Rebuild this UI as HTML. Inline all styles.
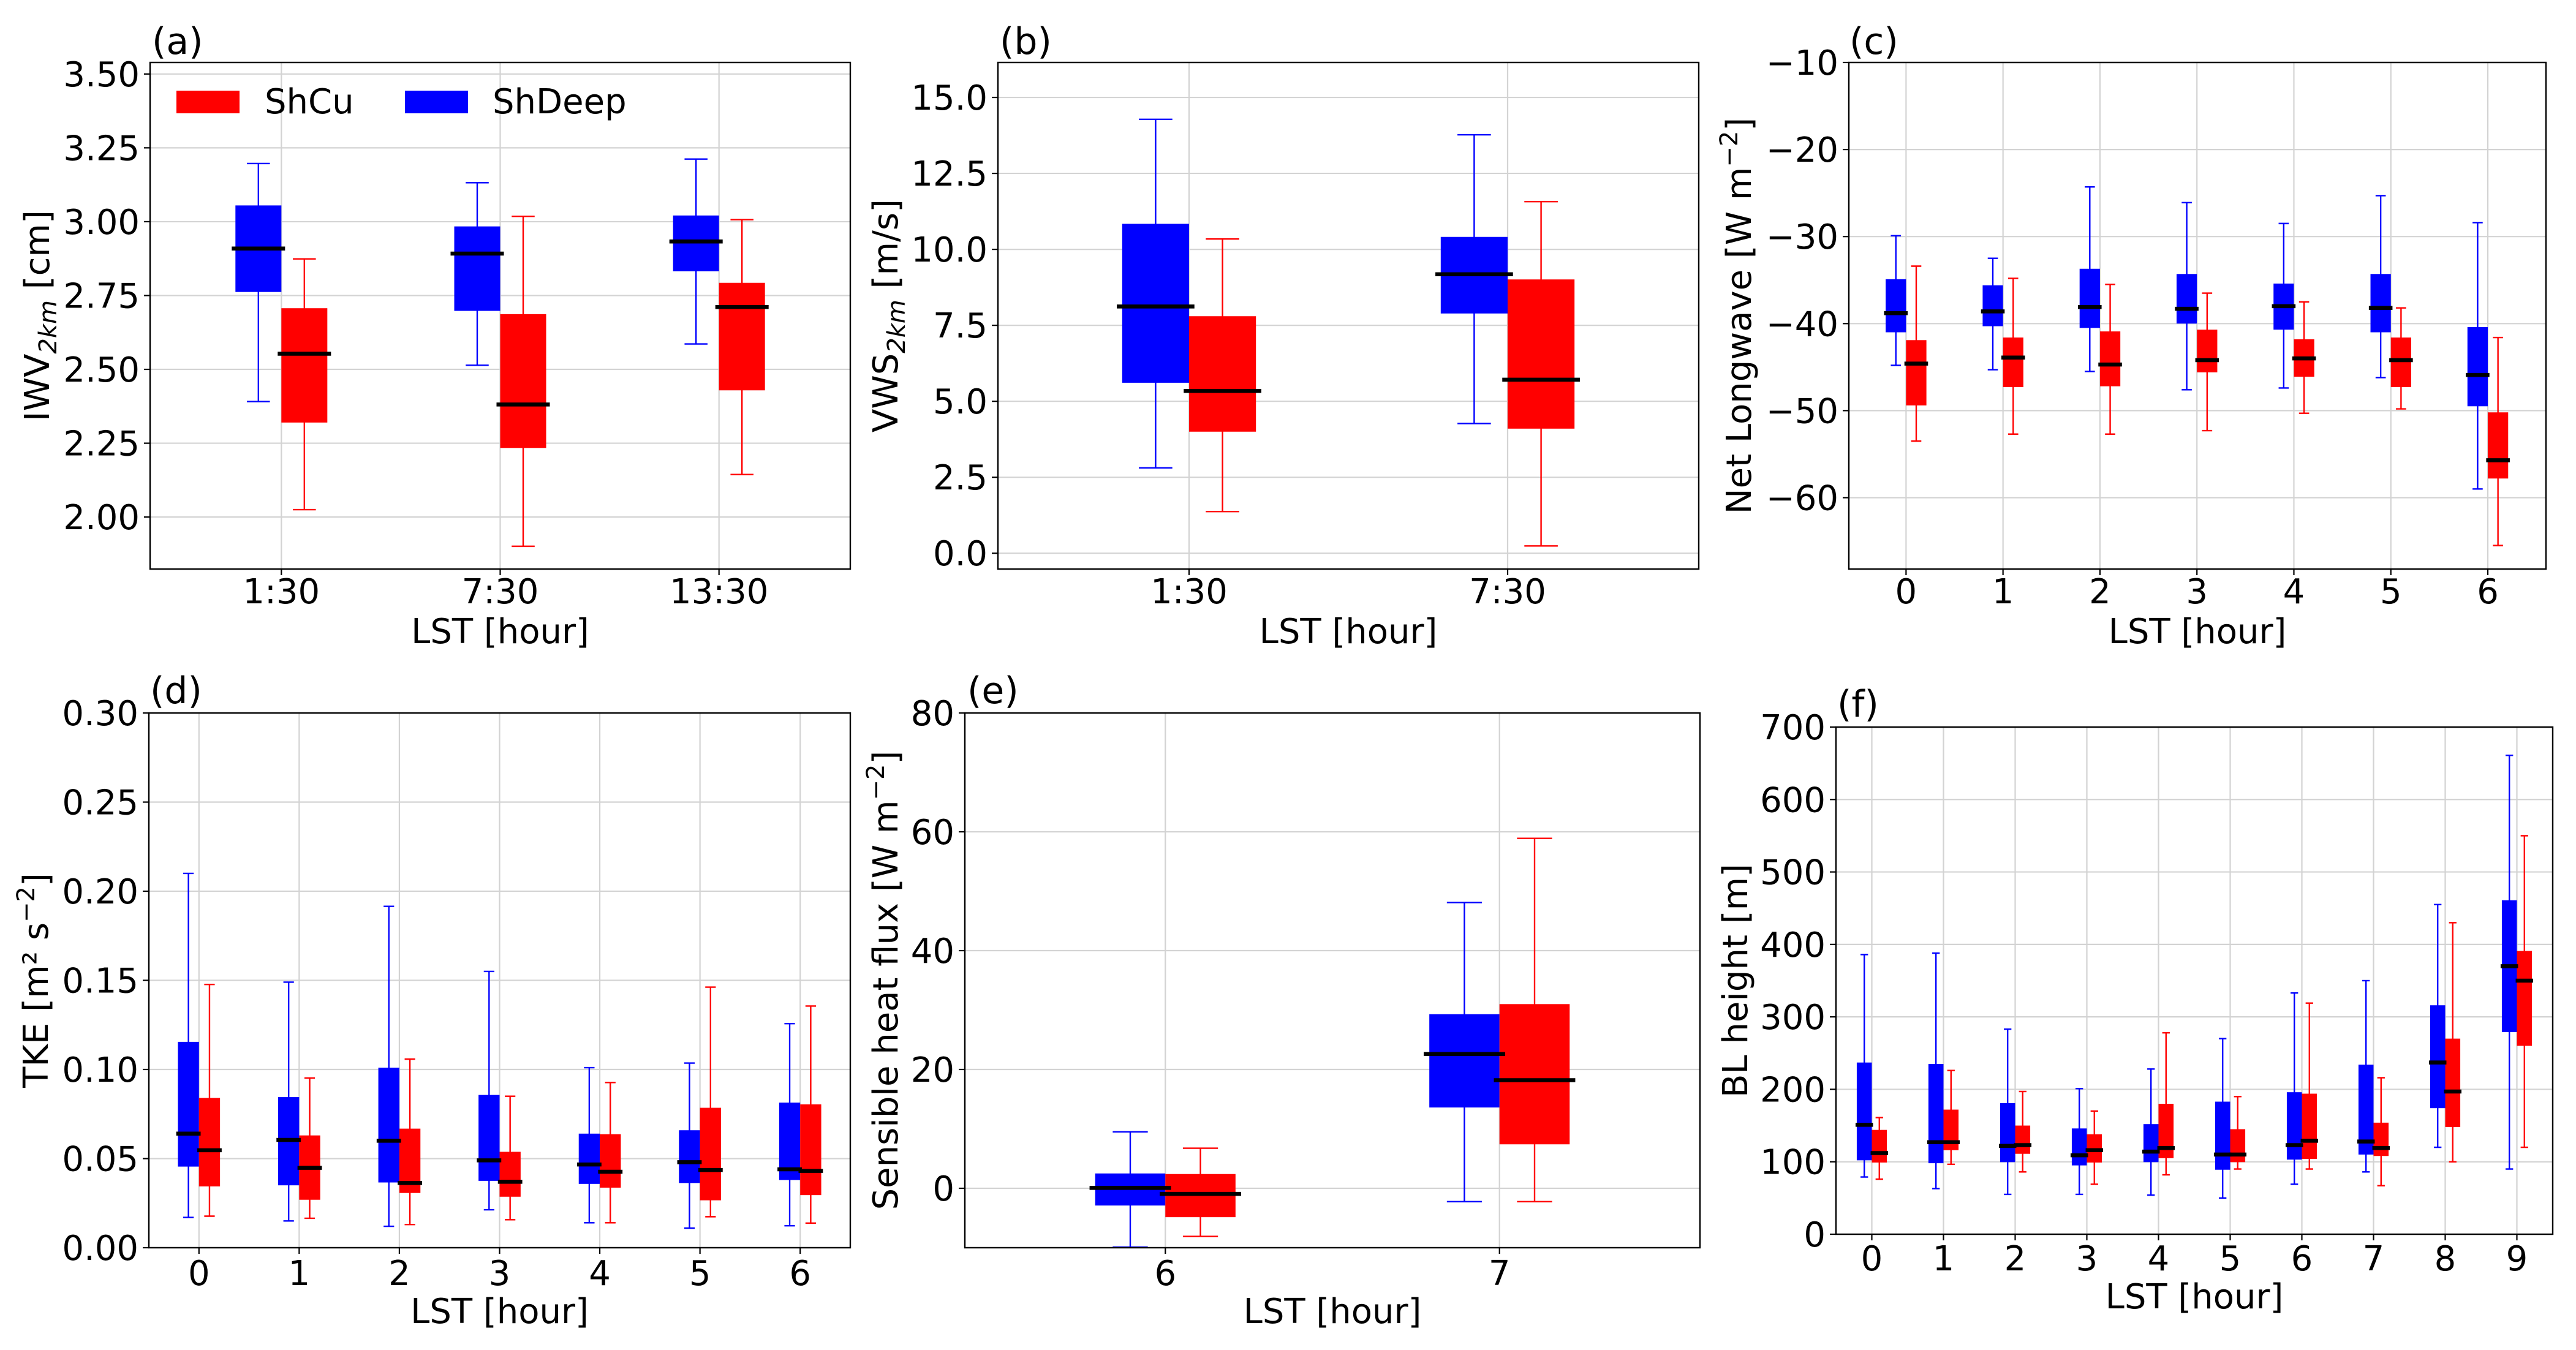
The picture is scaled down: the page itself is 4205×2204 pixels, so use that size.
<!DOCTYPE html>
<html><head><meta charset="utf-8"><title>Box plots</title>
<style>
html,body{margin:0;padding:0;background:#fff;}
svg{display:block;font-family:"DejaVu Sans","Liberation Sans",sans-serif;}
</style></head>
<body>
<svg id="fig" xmlns="http://www.w3.org/2000/svg" width="4205" height="2204" viewBox="0 0 4205 2204"></svg>
<script>
// ---------- data (order per box: whisker-low, q1, median, q3, whisker-high) ----------
const catsA = ["1:30","7:30","13:30"];
const blueA = [[2.391,2.762,2.909,3.055,3.197],[2.514,2.698,2.892,2.984,3.132],[2.586,2.832,2.933,3.021,3.212]];
const redA  = [[2.025,2.320,2.553,2.707,2.874],[1.901,2.234,2.381,2.687,3.018],[2.144,2.429,2.711,2.793,3.007]];
const ticksA = ["2.00","2.25","2.50","2.75","3.00","3.25","3.50"];

const catsB = ["1:30","7:30"];
const blueB = [[2.81,5.61,8.12,10.84,14.28],[4.27,7.89,9.18,10.41,13.77]];
const redB  = [[1.37,4.00,5.34,7.80,10.34],[0.24,4.10,5.71,9.01,11.57]];
const ticksB = ["0.0","2.5","5.0","7.5","10.0","12.5","15.0"];

const catsC = ["0","1","2","3","4","5","6"];
const blueC = [[-44.8,-41.0,-38.8,-34.9,-29.9],[-45.3,-40.3,-38.6,-35.6,-32.5],[-45.5,-40.5,-38.1,-33.7,-24.3],[-47.6,-40.0,-38.3,-34.3,-26.1],[-47.4,-40.7,-38.0,-35.4,-28.5],[-46.2,-41.0,-38.2,-34.3,-25.3],[-59.0,-49.5,-45.9,-40.4,-28.4]];
const redC  = [[-53.5,-49.4,-44.6,-41.9,-33.4],[-52.7,-47.3,-43.9,-41.6,-34.8],[-52.7,-47.2,-44.7,-40.9,-35.5],[-52.3,-45.6,-44.2,-40.7,-36.5],[-50.3,-46.1,-44.0,-41.8,-37.5],[-49.8,-47.3,-44.2,-41.6,-38.2],[-65.5,-57.8,-55.7,-50.2,-41.6]];
const ticksC = ["−60","−50","−40","−30","−20","−10"];

const catsD = ["0","1","2","3","4","5","6"];
const blueD = [[.017,.0455,.064,.1155,.210],[.015,.035,.0605,.0845,.149],[.012,.0366,.060,.101,.1915],[.0213,.0375,.049,.0857,.155],[.014,.0358,.0467,.064,.101],[.011,.0363,.048,.0659,.1036],[.0123,.038,.044,.0814,.1257]];
const redD  = [[.0177,.0344,.0547,.084,.1477],[.0165,.0269,.0448,.063,.0952],[.013,.0307,.0363,.0668,.1058],[.0157,.0286,.037,.0538,.085],[.014,.0337,.0426,.0637,.0927],[.0174,.0266,.0436,.0785,.1462],[.0138,.0295,.0431,.0804,.1356]];
const ticksD = ["0.00","0.05","0.10","0.15","0.20","0.25","0.30"];

const catsE = ["6","7"];
const blueE = [[-9.9,-2.9,0.07,2.5,9.5],[-2.25,13.6,22.6,29.3,48.1]];
const redE  = [[-8.1,-4.86,-0.94,2.4,6.75],[-2.25,7.4,18.2,31.0,58.9]];
const ticksE = ["0","20","40","60","80"];

const catsF = ["0","1","2","3","4","5","6","7","8","9"];
const blueF = [[79,102,151,237,386],[63,98,127,235,388],[55,99.5,122,181,283],[55,95,109,146,201],[54,99.5,114,152,228],[50,89,110,183,270],[69,103,123,196,333],[86,110,128,234,350],[120,174,237,316,455],[90,279,370,461,661]];
const redF  = [[76,99,112,144,161],[96.5,116,127,172,226],[86,111,123,150,197],[69,99,116,138,170],[82,105,119,180,278],[90,99.5,110,145,190],[90,104,129,194,319],[67,108,119,154,216],[100,148,197,270,430],[120,260,350,391,550]];
const ticksF = ["0","100","200","300","400","500","600","700"];

// ---------- layout ----------
const NS="http://www.w3.org/2000/svg";
const svg=document.getElementById('fig');
function mk(tag,attrs,parent){const e=document.createElementNS(NS,tag);for(const k in attrs)e.setAttribute(k,attrs[k]);(parent||svg).appendChild(e);return e;}

const panels=[
 {id:'a',L:245,R:1388,T:102,B:929,x0:-0.6,x1:2.6,y0:1.824,y1:3.539,cats:catsA,blue:blueA,red:redA,ticks:ticksA,ylx:60,lab:[248,88],tickY:985,xlabY:1050,ylab:'iwv'},
 {id:'b',L:1629,R:2773,T:102,B:929,x0:-0.6,x1:1.6,y0:-0.52,y1:16.15,cats:catsB,blue:blueB,red:redB,ticks:ticksB,ylx:1445,lab:[1632,88],tickY:985,xlabY:1050,ylab:'vws'},
 {id:'c',L:3018,R:4156,T:102,B:929,x0:-0.59,x1:6.6,y0:-68.2,y1:-10,cats:catsC,blue:blueC,red:redC,ticks:ticksC,ylx:2838,lab:[3019,88],tickY:985,xlabY:1050,ylab:'lw'},
 {id:'d',L:243,R:1388,T:1164,B:2037,x0:-0.5,x1:6.5,y0:0,y1:0.3,cats:catsD,blue:blueD,red:redD,ticks:ticksD,ylx:58,lab:[245,1148],tickY:2098,xlabY:2160,ylab:'tke'},
 {id:'e',L:1575,R:2775,T:1164,B:2037,x0:-0.6,x1:1.6,y0:-10,y1:80,cats:catsE,blue:blueE,red:redE,ticks:ticksE,ylx:1445,lab:[1579,1148],tickY:2098,xlabY:2160,ylab:'shf'},
 {id:'f',L:2997,R:4167,T:1187,B:2015,x0:-0.5,x1:9.5,y0:0,y1:700,cats:catsF,blue:blueF,red:redF,ticks:ticksF,ylx:2832,lab:[2999,1170],tickY:2074,xlabY:2136,ylab:'bl'}
];
const FS=56, BW=0.21, OFF=0.105;

panels.forEach(p=>{
  const g=mk('g',{});
  
  
  const sx=v=>p.L+(v-p.x0)/(p.x1-p.x0)*(p.R-p.L);
  const sy=v=>p.B-(v-p.y0)/(p.y1-p.y0)*(p.B-p.T);
  const unit=(p.R-p.L)/(p.x1-p.x0);
  // grid + y ticks
  p.ticks.forEach(t=>{
    const v=parseFloat(t.replace('−','-'));const y=sy(v);
    const gl=mk('line',{x1:p.L,x2:p.R,y1:y,y2:y,stroke:'#d3d3d3','stroke-width':2.2},g);
    
    
    mk('line',{x1:p.L-10,x2:p.L,y1:y,y2:y,stroke:'#000','stroke-width':2.2},g);
    const tx=mk('text',{x:p.L-17,y:y+20,'text-anchor':'end','font-size':FS},g);
    tx.textContent=t;
    
    
  });
  p.cats.forEach((c,i)=>{
    const x=sx(i);
    const gl=mk('line',{x1:x,x2:x,y1:p.T,y2:p.B,stroke:'#d3d3d3','stroke-width':2.2},g);
    
    
    mk('line',{x1:x,x2:x,y1:p.B,y2:p.B+10,stroke:'#000','stroke-width':2.2},g);
    const tx=mk('text',{x:x,y:p.tickY,'text-anchor':'middle','font-size':FS},g);
    tx.textContent=c;
    
    
  });
  // boxes
  [['blue',p.blue,-OFF,'#0000ff'],['red',p.red,OFF,'#ff0000']].forEach(([nm,arr,off,col])=>{
    arr.forEach((d,i)=>{
      const cx=sx(i+off), w=BW*unit;
      const bg=mk('g',{},g);
      
      
      mk('line',{x1:cx,x2:cx,y1:sy(d[0]),y2:sy(d[4]),stroke:col,'stroke-width':2.4},bg);
      mk('line',{x1:cx-w/4,x2:cx+w/4,y1:sy(d[0]),y2:sy(d[0]),stroke:col,'stroke-width':2.4},bg);
      mk('line',{x1:cx-w/4,x2:cx+w/4,y1:sy(d[4]),y2:sy(d[4]),stroke:col,'stroke-width':2.4},bg);
      mk('rect',{x:cx-w/2,y:sy(d[3]),width:w,height:sy(d[1])-sy(d[3]),fill:col},bg);
    });
  });
  // medians on top
  [[p.blue,-OFF],[p.red,OFF]].forEach(([arr,off])=>{
    arr.forEach((d,i)=>{
      const cx=sx(i+off), w=BW*unit*1.16;
      const m=mk('line',{x1:cx-w/2,x2:cx+w/2,y1:sy(d[2]),y2:sy(d[2]),stroke:'#000','stroke-width':6.5},g);
      
      
    });
  });
  const fr=mk('rect',{x:p.L,y:p.T,width:p.R-p.L,height:p.B-p.T,fill:'none',stroke:'#000','stroke-width':2.4},g);
  
  
  // labels
  const pl=mk('text',{x:p.lab[0],y:p.lab[1],'font-size':60},g);
  pl.textContent='('+p.id+')';
  
  
  const xl=mk('text',{x:(p.L+p.R)/2,y:p.xlabY,'text-anchor':'middle','font-size':FS},g);
  xl.textContent='LST [hour]';
  
  
  const cy=(p.T+p.B)/2;
  const yl=mk('text',{x:0,y:0,'text-anchor':'middle','font-size':FS,transform:'translate('+(p.ylx+20)+','+cy+') rotate(-90)'},g);
  
  
  const sub=(a,s,b)=>{yl.appendChild(document.createTextNode(a));const t=mk('tspan',{'font-size':40,'font-style':'italic',dy:12},yl);t.textContent=s;const t2=mk('tspan',{dy:-12},yl);t2.textContent=b;};
  const sup=(a,s,b)=>{yl.appendChild(document.createTextNode(a));const t=mk('tspan',{'font-size':40,dy:-22},yl);t.textContent=s;const t2=mk('tspan',{dy:22},yl);t2.textContent=b;};
  if(p.ylab==='iwv') sub('IWV','2km',' [cm]');
  else if(p.ylab==='vws') sub('VWS','2km',' [m/s]');
  else if(p.ylab==='lw') sup('Net Longwave [W m','−2',']');
  else if(p.ylab==='tke') sup('TKE [m² s','−2',']');
  else if(p.ylab==='shf') sup('Sensible heat flux [W m','−2',']');
  else yl.textContent='BL height [m]';
});

// legend in panel (a)
const lg=mk('g',{});


const r1=mk('rect',{x:288,y:148,width:103,height:37,fill:'#ff0000'},lg);


const t1=mk('text',{x:432,y:185,'font-size':FS},lg);t1.textContent='ShCu';


const r2=mk('rect',{x:661,y:148,width:103,height:37,fill:'#0000ff'},lg);


const t2=mk('text',{x:804,y:185,'font-size':FS},lg);t2.textContent='ShDeep';


</script>
</body></html>
